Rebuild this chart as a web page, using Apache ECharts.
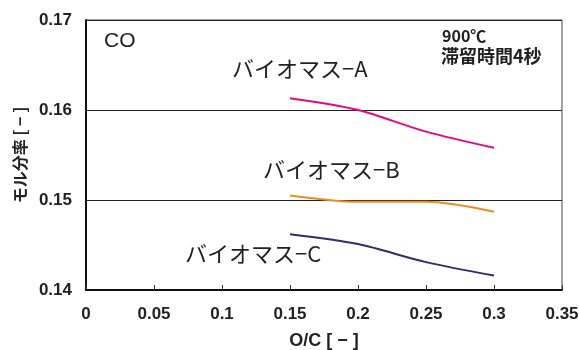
<!DOCTYPE html>
<html><head><meta charset="utf-8">
<script src="https://cdn.jsdelivr.net/npm/echarts@6/dist/echarts.min.js"></script>
<style>html,body{margin:0;padding:0;background:#fff}#c{width:579px;height:350px}</style>
</head><body><div id="c"></div>
<script>
var xValues = [0.15, 0.2, 0.25, 0.3];
var seriesA = [0.1613, 0.1600, 0.1576, 0.1558];
var seriesB = [0.1505, 0.1498, 0.1498, 0.1487];
var seriesC = [0.1462, 0.1451, 0.1431, 0.1416];
var seriesNames = ['バイオマス−A', 'バイオマス−B', 'バイオマス−C'];
var yTicks = [0.14, 0.15, 0.16, 0.17];
var xTicks = [0, 0.05, 0.1, 0.15, 0.2, 0.25, 0.3, 0.35];

function pairs(v){ return xValues.map(function(x,i){ return [x, v[i]]; }); }

var chart = echarts.init(document.getElementById('c'), null, {renderer:'canvas'});
var tickFont = {fontFamily:'Liberation Sans, Arial, sans-serif', fontWeight:'bold', fontSize:17, color:'#222'};
var jp = 'Noto Sans CJK JP, sans-serif';
chart.setOption({
  animation:false,
  grid:{left:86, right:17, top:20, bottom:60, show:true, borderColor:'#444', borderWidth:1, outerBoundsMode:'none', containLabel:false},
  xAxis:{type:'value', min:xTicks[0], max:xTicks[xTicks.length-1], interval:0.05,
    name:'O/C [ − ]', nameLocation:'middle', nameGap:42,
    nameTextStyle:{fontFamily:'Liberation Sans, '+jp, fontWeight:'bold', fontSize:18, color:'#222'},
    axisLine:{lineStyle:{color:'#111', width:2}},
    axisTick:{inside:true, length:5, lineStyle:{color:'#333'}},
    axisLabel:Object.assign({margin:16, formatter:function(v){return String(+v.toFixed(2));}}, tickFont),
    splitLine:{show:false}},
  yAxis:{type:'value', min:yTicks[0], max:yTicks[yTicks.length-1], interval:0.01,
    name:'モル分率 [ − ]', nameLocation:'middle', nameGap:56, nameRotate:90,
    nameTextStyle:{fontFamily:jp, fontWeight:'bold', fontSize:16, color:'#222'},
    axisLine:{lineStyle:{color:'#111', width:2}},
    axisTick:{show:false},
    axisLabel:Object.assign({margin:14, formatter:function(v){return v.toFixed(2);}}, tickFont),
    splitLine:{lineStyle:{color:'#222', width:1}}},
  series:[
    {type:'line', name:seriesNames[0], data:pairs(seriesA), smooth:0.3, showSymbol:false, lineStyle:{color:'#e5097f', width:2}},
    {type:'line', name:seriesNames[1], data:pairs(seriesB), smooth:0.3, showSymbol:false, lineStyle:{color:'#f08a1c', width:2}},
    {type:'line', name:seriesNames[2], data:pairs(seriesC), smooth:0.3, showSymbol:false, lineStyle:{color:'#2b2f6e', width:2}}
  ],
  graphic:[
    {type:'text', left:104, top:31, style:{text:'CO', font:'21px Liberation Sans, Arial, sans-serif', fill:'#222'}},
    {type:'text', left:232, top:58, style:{text:seriesNames[0], font:'22px '+jp, fill:'#222'}},
    {type:'text', left:263, top:159, style:{text:seriesNames[1], font:'22px '+jp, fill:'#222'}},
    {type:'text', left:185, top:243, style:{text:seriesNames[2], font:'22px '+jp, fill:'#222'}},
    {type:'text', left:442, top:28, style:{text:'900℃', font:'bold 16px '+jp, fill:'#222'}},
    {type:'text', left:441, top:47, style:{text:'滞留時間4秒', font:'bold 18px '+jp, fill:'#222'}}
  ]
});
</script></body></html>
